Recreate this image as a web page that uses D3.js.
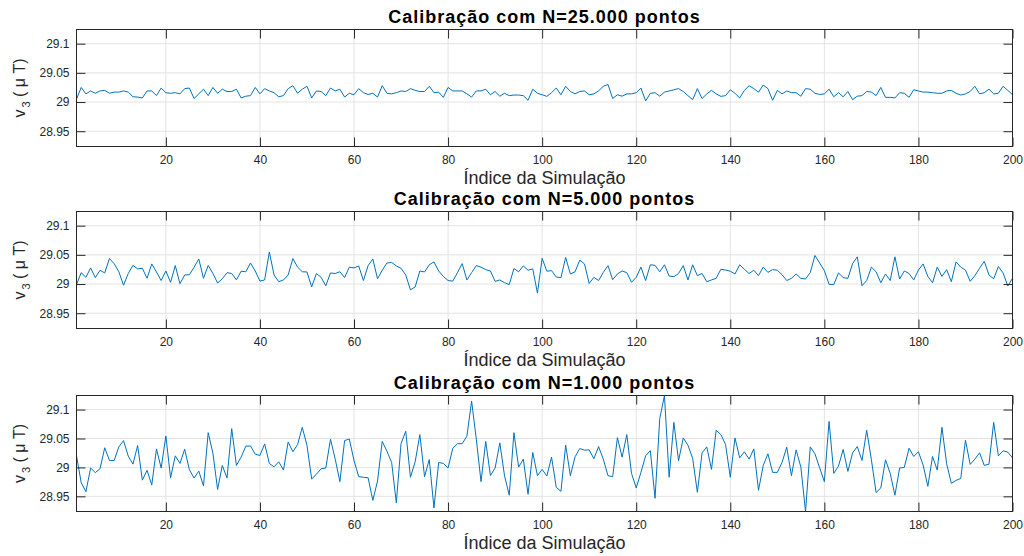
<!DOCTYPE html>
<html>
<head>
<meta charset="utf-8">
<script src="https://cdn.jsdelivr.net/npm/d3@7"></script>
<style>
  html, body { margin: 0; padding: 0; background: #fff; }
  svg { display: block; font-family: "Liberation Sans", Arial, Helvetica, sans-serif; }
</style>
</head>
<body>
<script>
// Simulation index and tick values
const simIndex = d3.range(1, 201);
const xTicks = [20, 40, 60, 80, 100, 120, 140, 160, 180, 200];
const yTicks = [28.95, 29, 29.05, 29.1];
const yTickLabels = ["28.95", "29", "29.05", "29.1"];

const titles = [
  "Calibração com N=25.000 pontos",
  "Calibração com N=5.000 pontos",
  "Calibração com N=1.000 pontos"
];

// v3 estimates (µT) for each calibration size
const v3N25000 = [
  29.005, 29.025, 29.014, 29.019, 29.015, 29.019, 29.020, 29.015, 29.017, 29.017,
  29.019, 29.017, 29.009, 29.0085, 29.007, 29.019, 29.019, 29.011, 29.024, 29.016,
  29.015, 29.016, 29.014, 29.023, 29.024, 29.006, 29.014, 29.022, 29.011, 29.025,
  29.015, 29.022, 29.018, 29.018, 29.022, 29.007, 29.010, 29.011, 29.025, 29.014,
  29.023, 29.019, 29.016, 29.009, 29.011, 29.023, 29.028, 29.015, 29.022, 29.027,
  29.007, 29.019, 29.018, 29.011, 29.024, 29.019, 29.022, 29.0085, 29.015, 29.0125,
  29.023, 29.016, 29.013, 29.015, 29.0085, 29.028, 29.015, 29.014, 29.016, 29.019,
  29.018, 29.023, 29.020, 29.018, 29.018, 29.027, 29.016, 29.017, 29.008, 29.025,
  29.019, 29.019, 29.019, 29.014, 29.0085, 29.019, 29.019, 29.022, 29.0125, 29.018,
  29.010, 29.015, 29.011, 29.012, 29.012, 29.011, 29.003, 29.022, 29.015, 29.0125,
  29.0097, 29.016, 29.024, 29.0125, 29.027, 29.018, 29.014, 29.018, 29.019, 29.0125,
  29.014, 29.019, 29.027, 29.030, 29.006, 29.0125, 29.010, 29.014, 29.014, 29.016,
  29.024, 29.002, 29.015, 29.016, 29.010, 29.017, 29.019, 29.021, 29.023, 29.018,
  29.011, 29.004, 29.023, 29.006, 29.014, 29.020, 29.014, 29.0097, 29.011, 29.021,
  29.015, 29.007, 29.020, 29.028, 29.023, 29.017, 29.029, 29.023, 29.003, 29.020,
  29.014, 29.019, 29.016, 29.016, 29.010, 29.023, 29.022, 29.015, 29.013, 29.014,
  29.022, 29.009, 29.016, 29.009, 29.018, 29.004, 29.010, 29.011, 29.018, 29.017,
  29.011, 29.025, 29.008, 29.008, 29.007, 29.016, 29.015, 29.008, 29.021, 29.019,
  29.017, 29.017, 29.016, 29.015, 29.015, 29.019, 29.020, 29.015, 29.012, 29.014,
  29.018, 29.027, 29.014, 29.016, 29.022, 29.014, 29.015, 29.027, 29.020, 29.0125
];

const v3N5000 = [
  28.999, 29.0195, 29.0115, 29.0276, 29.011, 29.0236, 29.019, 29.0437, 29.035, 29.021,
  28.998, 29.018, 29.032, 29.026, 29.027, 29.0098, 29.0345, 29.0207, 29.006, 29.0224,
  29.003, 29.0316, 29.0006, 29.0155, 29.016, 29.0288, 29.043, 29.0098, 29.032, 29.018,
  29.0017, 29.009, 29.0195, 29.018, 29.007, 29.022, 29.021, 29.036, 29.0224, 29.005,
  29.007, 29.055, 29.0155, 29.004, 29.007, 29.0155, 29.0437, 29.029, 29.021, 29.0207,
  28.995, 29.018, 29.0115, 28.997, 29.019, 29.018, 29.021, 29.011, 29.029, 29.0276,
  29.031, 29.006, 29.0316, 29.043, 29.009, 29.0236, 29.036, 29.037, 29.031, 29.027,
  29.0155, 28.990, 28.995, 29.0224, 29.0207, 29.033, 29.038, 29.0224, 29.013, 29.006,
  29.005, 29.0195, 29.035, 29.007, 29.0195, 29.0316, 29.029, 29.0247, 29.0224, 29.0046,
  29.007, 29.0023, 28.999, 29.0265, 29.021, 29.031, 29.0236, 29.026, 28.9845, 29.044,
  29.022, 29.023, 29.012, 29.011, 29.0455, 29.0172, 29.021, 29.041, 29.0345, 29.001,
  29.0115, 29.006, 29.020, 29.0316, 29.0075, 29.0172, 29.0224, 29.0195, 29.003, 29.0115,
  29.029, 29.006, 29.033, 29.032, 29.021, 29.033, 29.0138, 29.0126, 29.018, 29.0316,
  29.007, 29.033, 29.0144, 29.018, 29.004, 29.007, 29.0098, 29.0253, 29.024, 29.022,
  29.0172, 29.033, 29.0253, 29.018, 29.0236, 29.0144, 29.029, 29.020, 29.0247, 29.0236,
  29.016, 29.006, 29.0098, 29.0172, 29.0098, 29.0086, 29.0195, 29.049, 29.036, 29.023,
  28.9994, 28.999, 29.019, 29.011, 29.0098, 29.035, 29.0466, 28.997, 29.006, 29.029,
  29.021, 29.0023, 29.0172, 29.006, 29.0466, 29.0086, 29.0224, 29.018, 29.007, 29.024,
  29.0345, 29.013, 29.0023, 29.029, 29.013, 29.0247, 29.004, 29.038, 29.029, 29.024,
  29.0046, 29.0144, 29.027, 29.039, 29.0155, 29.009, 29.030, 29.019, 28.9965, 29.0098
];

const v3N1000 = [
  29.020, 28.9736, 28.958, 28.9989, 28.991, 28.9977, 29.034, 29.012, 29.012, 29.0355,
  29.0464, 29.0195, 29.0057, 29.0378, 28.978, 28.995, 28.9696, 29.032, 28.9989, 29.0544,
  28.982, 29.020, 29.0069, 29.0315, 28.996, 28.9817, 28.9937, 28.968, 29.060, 29.0246,
  28.962, 29.0034, 28.9817, 29.067, 29.0034, 29.0178, 29.0367, 29.037, 29.023, 29.0206,
  29.0407, 29.0069, 29.001, 29.0097, 28.9954, 29.044, 29.027, 29.0395, 29.0693, 29.038,
  28.98, 28.988, 28.9977, 28.9989, 29.0487, 29.0143, 28.9754, 29.0464, 29.049, 29.012,
  28.984, 28.983, 28.982, 28.943, 28.9765, 29.045, 29.028, 29.0086, 28.9387, 29.041,
  29.0625, 28.983, 29.0097, 29.0567, 28.984, 29.0137, 28.930, 29.0086, 29.0069, 28.999,
  29.033, 29.041, 29.041, 29.054, 29.1146, 29.049, 28.9754, 29.045, 28.986, 28.9989,
  29.0424, 28.9857, 28.952, 29.060, 29.0006, 29.0143, 28.9536, 29.0258, 28.9857, 28.9966,
  28.985, 29.0178, 28.9656, 28.9587, 29.0384, 28.9857, 29.0183, 29.0326, 29.0298, 29.0304,
  29.0149, 29.036, 29.0143, 28.9857, 28.984, 29.0515, 29.0178, 29.0567, 28.9897, 28.9645,
  28.9914, 29.020, 29.029, 28.9467, 29.0842, 29.1243, 28.983, 29.0779, 29.0115, 29.051,
  29.0384, 29.0155, 28.957, 29.0252, 29.0355, 28.9966, 29.0642, 29.0567, 29.0395, 28.983,
  29.051, 29.0166, 29.027, 29.0143, 29.032, 28.9605, 29.0034, 29.0235, 28.9914, 28.9914,
  29.0086, 29.035, 28.9857, 29.0304, 29.0006, 28.9238, 29.0355, 29.0235, 28.9994, 28.9754,
  29.0796, 28.9897, 29.0023, 29.031, 28.9931, 29.0252, 29.036, 29.012, 29.0642, 29.0132,
  28.9565, 28.9645, 29.0132, 28.9897, 28.9519, 28.9989, 29.000, 29.0332, 29.0189, 29.027,
  29.004, 28.9673, 29.0189, 28.9954, 29.0693, 29.0063, 28.9725, 28.9776, 28.981, 29.047,
  29.0052, 29.0143, 29.0252, 29.0034, 29.0057, 29.0779, 29.020, 29.0287, 29.0264, 29.0166
];

const seriesList = [v3N25000, v3N5000, v3N1000];

// Layout
const W = 1024, H = 556;
const left = 76.5, right = 1012.5;
const panelBoxes = [
  { top: 29.5, bottom: 146.5 },
  { top: 211.5, bottom: 328.5 },
  { top: 395.5, bottom: 511.5 }
];
const axisColor = "#262626";
const gridColor = "#e3e3e3";
const lineColor = "#0072BD";

const svg = d3.select("body").append("svg")
  .attr("width", W).attr("height", H);

const x = d3.scaleLinear().domain([1, 200]).range([left, right]);
// Shared y limits taken from the widest series
const yDomain = d3.extent(v3N1000);

panelBoxes.forEach((box, k) => {
  const data = seriesList[k];
  const y = d3.scaleLinear().domain(yDomain).range([box.bottom, box.top]);
  const g = svg.append("g");

  // grid
  g.append("g").selectAll("line").data(xTicks).join("line")
    .attr("x1", d => x(d)).attr("x2", d => x(d))
    .attr("y1", box.top).attr("y2", box.bottom)
    .attr("stroke", gridColor).attr("stroke-width", 1);
  g.append("g").selectAll("line").data(yTicks).join("line")
    .attr("x1", left).attr("x2", right)
    .attr("y1", d => y(d)).attr("y2", d => y(d))
    .attr("stroke", gridColor).attr("stroke-width", 1);

  // data line, clipped to the axes box
  const clipId = "clip" + k;
  svg.append("clipPath").attr("id", clipId).append("rect")
    .attr("x", left).attr("y", box.top)
    .attr("width", right - left).attr("height", box.bottom - box.top);
  const line = d3.line().x((d, i) => x(simIndex[i])).y(d => y(d));
  g.append("path").datum(data)
    .attr("clip-path", `url(#${clipId})`)
    .attr("fill", "none").attr("stroke", lineColor)
    .attr("stroke-width", 1).attr("stroke-linejoin", "round")
    .attr("d", line);

  // axes with inward ticks on all four sides
  const styleAxis = sel => {
    sel.select(".domain").remove();
    sel.selectAll(".tick line").attr("stroke", axisColor);
    sel.selectAll(".tick text").attr("fill", axisColor).attr("font-size", "12px");
  };
  g.append("g").attr("transform", `translate(${left},0)`)
    .call(d3.axisLeft(y).tickValues(yTicks).tickFormat((d, i) => yTickLabels[i])
      .tickSizeInner(-9).tickSizeOuter(0).tickPadding(7))
    .call(styleAxis);
  g.append("g").attr("transform", `translate(${right},0)`)
    .call(d3.axisRight(y).tickValues(yTicks).tickFormat("")
      .tickSizeInner(-9).tickSizeOuter(0))
    .call(styleAxis);
  g.append("g").attr("transform", `translate(0,${box.bottom})`)
    .call(d3.axisBottom(x).tickValues(xTicks).tickFormat(d3.format("d"))
      .tickSizeInner(-9).tickSizeOuter(0).tickPadding(9))
    .call(styleAxis);
  g.append("g").attr("transform", `translate(0,${box.top})`)
    .call(d3.axisTop(x).tickValues(xTicks).tickFormat("")
      .tickSizeInner(-9).tickSizeOuter(0))
    .call(styleAxis);

  // box
  g.append("rect")
    .attr("x", left).attr("y", box.top)
    .attr("width", right - left).attr("height", box.bottom - box.top)
    .attr("fill", "none").attr("stroke", axisColor).attr("stroke-width", 1);

  // title
  g.append("text")
    .attr("x", (left + right) / 2).attr("y", box.top - 7)
    .attr("text-anchor", "middle")
    .attr("font-weight", "bold").attr("font-size", "18px")
    .attr("letter-spacing", "1px")
    .attr("fill", "#000")
    .text(titles[k]);

  // x label
  g.append("text")
    .attr("x", (left + right) / 2).attr("y", box.bottom + 37.5)
    .attr("text-anchor", "middle")
    .attr("font-size", "18px").attr("fill", axisColor)
    .text("Índice da Simulação");

  // y label: v_3 (μ T)
  const cy = (box.top + box.bottom) / 2;
  const yl = g.append("text")
    .attr("transform", `translate(25,${cy}) rotate(-90)`)
    .attr("text-anchor", "middle")
    .attr("font-size", "16px").attr("fill", axisColor);
  yl.append("tspan").text("v");
  yl.append("tspan").attr("dx", 2).attr("dy", 5).attr("font-size", "11px").text("3");
  yl.append("tspan").attr("dy", -5).text(" ( ");
  yl.append("tspan").text("μ");
  yl.append("tspan").text(" T)");
});
</script>
</body>
</html>
